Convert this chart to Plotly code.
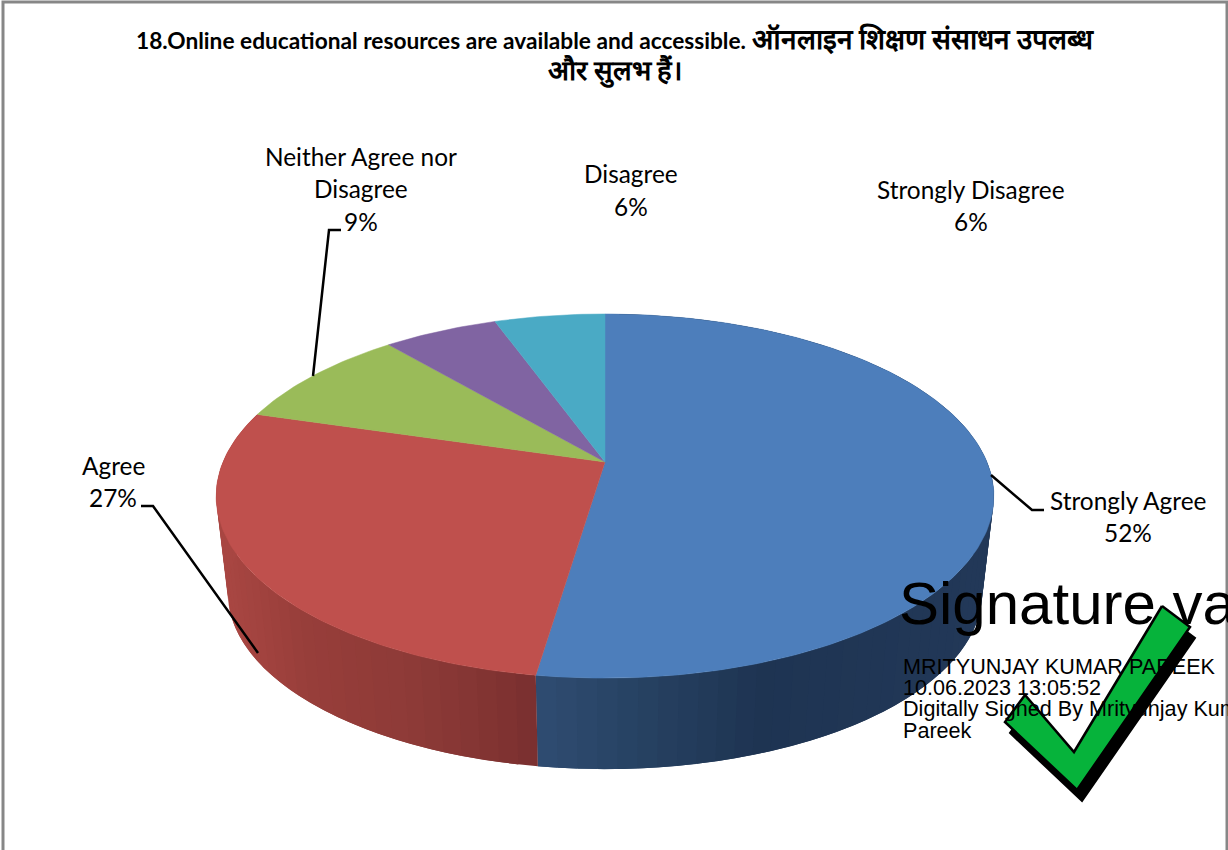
import math
import plotly.graph_objects as go

# ---- data ----
categories = ["Strongly Agree", "Agree", "Neither Agree nor Disagree", "Disagree", "Strongly Disagree"]
drawn_shares = [52.36, 27.24, 9.2, 5.7, 5.5]   # slice sizes
percent_labels = ["52%", "27%", "9%", "6%", "6%"]
top_colors = ["#4D7EBB", "#BF504D", "#9ABB59", "#8064A2", "#4AAAC5"]

W, H = 1228, 850
CX, CY = 605, 462          # apex of the top face
RX, RY, K = 382, 175.7, 0.187
SIDE_SCALE, SIDE_CY = 0.97, 559.5


def project(theta_deg, cy, s):
    t = math.radians(theta_deg)
    u, v = math.sin(t), math.cos(t)
    d = 1 + K * v
    return CX + s * RX * u / d, cy - s * RY * v / d


def lerp_color(stops, x):
    if x <= stops[0][0]:
        c = stops[0][1]
    elif x >= stops[-1][0]:
        c = stops[-1][1]
    else:
        for (a, ca), (b, cb) in zip(stops, stops[1:]):
            if a <= x <= b:
                f = (x - a) / (b - a)
                c = [ca[i] + f * (cb[i] - ca[i]) for i in range(3)]
                break
    return "rgb(%d,%d,%d)" % tuple(round(q) for q in c)


side_stops = {
    0: [(537, (47, 76, 113)), (620, (40, 68, 101)), (760, (30, 52, 82)), (990, (34, 56, 88))],
    1: [(225, (168, 70, 66)), (300, (152, 62, 58)), (420, (140, 58, 55)), (535, (122, 47, 47))],
}

fig = go.Figure()

total = sum(drawn_shares)
edges = [0]
for v in drawn_shares:
    edges.append(edges[-1] + v / total * 360)


def add_poly(xs, ys, fill, line=None, width=1):
    fig.add_trace(go.Scatter(x=xs, y=ys, mode="lines", fill="toself", fillcolor=fill,
                             line=dict(color=line or fill, width=width),
                             hoverinfo="skip", showlegend=False))


# side wall strips for the two front slices (each overlaps the next to hide seams)
for i in (0, 1):
    a0, a1 = edges[i], edges[i + 1]
    n = max(2, int((a1 - a0) / 2.5))
    step = (a1 - a0) / n
    for j in range(n):
        t0 = a0 + step * j
        t1 = a0 + step * (j + 1)
        t_end = min(t1 + step, a1)
        mid = 6
        angles = [t0 + (t_end - t0) * m / mid for m in range(mid + 1)]
        top = [project(a, CY, 1) for a in angles]
        low = [project(a, SIDE_CY, SIDE_SCALE) for a in reversed(angles)]
        pts = top + low + [top[0]]
        x_mid = (project(t0, CY, 1)[0] + project(t1, CY, 1)[0]) / 2
        col = lerp_color(side_stops[i], x_mid)
        add_poly([p[0] for p in pts], [p[1] for p in pts], col, width=0)

# top faces
for i, col in enumerate(top_colors):
    a0, a1 = edges[i], edges[i + 1]
    n = max(8, int(a1 - a0))
    pts = [project(a0 + (a1 - a0) * j / n, CY, 1) for j in range(n + 1)]
    xs = [CX] + [p[0] for p in pts] + [CX]
    ys = [CY] + [p[1] for p in pts] + [CY]
    add_poly(xs, ys, col, width=0.5)

# leader lines
leaders = [
    ([991, 1032, 1044], [475, 510, 510]),
    ([258, 153, 141], [653, 506, 506]),
    ([313, 329, 341], [376, 230, 230]),
]
for lx, ly in leaders:
    fig.add_trace(go.Scatter(x=lx, y=ly, mode="lines", line=dict(color="black", width=2.5),
                             hoverinfo="skip", showlegend=False))

# check mark: shadow, then green (drawn under the signature text)
check_x = [1162, 1190, 1077, 1005, 1025, 1074, 1162]
check_y = [606, 627, 790, 722, 695, 752, 606]
add_poly([x + 5 for x in check_x], [y + 11 for y in check_y], "black", "black", 2)
add_poly(check_x, check_y, "#06B33B", "black", 2.5)

# signature text
SIG = "Liberation Sans"
sig_lines = [
    ("Signature valid", 899, 609, 60),
    ("MRITYUNJAY KUMAR PAREEK", 903, 668.5, 21.6),
    ("10.06.2023 13:05:52", 903, 690, 21.6),
    ("Digitally Signed By Mrityunjay Kumar", 903, 711, 21.6),
    ("Pareek", 903, 732.5, 21.6),
]
for txt, x, y, size in sig_lines:
    fig.add_trace(go.Scatter(x=[x], y=[y], mode="text", text=[txt], textposition="middle right",
                             textfont=dict(family=SIG, size=size, color="black"),
                             hoverinfo="skip", showlegend=False))

# labels
LF = "Lato"
label_lines = [
    (categories[0], 1128, 500), (percent_labels[0], 1128, 532),
    (categories[1], 113, 465), (percent_labels[1], 113, 497),
    ("Neither Agree nor", 361, 156), ("Disagree", 361, 188), (percent_labels[2], 361, 221),
    (categories[3], 631, 173), (percent_labels[3], 631, 206),
    (categories[4], 971, 189), (percent_labels[4], 971, 221),
]
annotations = [dict(x=x, y=y, xref="x", yref="y", text=t, showarrow=False, xanchor="center",
                    yanchor="middle", font=dict(family=LF, size=24.4, color="black"))
               for t, x, y in label_lines]

title_en = "18.Online educational resources are available and accessible."
title_hi1 = "ऑनलाइन शिक्षण संसाधन उपलब्ध"
title_hi2 = "और सुलभ हैं।"
annotations.append(dict(x=615, y=38, xref="x", yref="y", showarrow=False, xanchor="center", yanchor="middle",
                        text="<b>%s </b><b><span style='font-size:28px'>%s</span></b>" % (title_en, title_hi1),
                        font=dict(family=LF, size=22.7, color="black")))
annotations.append(dict(x=615, y=70, xref="x", yref="y", showarrow=False, xanchor="center", yanchor="middle",
                        text="<b>%s</b>" % title_hi2, font=dict(family=LF, size=27.5, color="black")))

fig.update_layout(
    width=W, height=H, autosize=False,
    margin=dict(l=0, r=0, t=0, b=0),
    paper_bgcolor="white", plot_bgcolor="white",
    showlegend=False,
    xaxis=dict(range=[0, W], visible=False, fixedrange=True),
    yaxis=dict(range=[H, 0], visible=False, fixedrange=True),
    annotations=annotations,
    shapes=[dict(type="rect", xref="x", yref="y", x0=3, y0=2, x1=1227, y1=870,
                 line=dict(color="#878787", width=3), layer="below")],
)

fig.write_html("out.html", config={"displayModeBar": False},
               post_script="document.body.style.margin='0';document.body.style.overflow='hidden';")
